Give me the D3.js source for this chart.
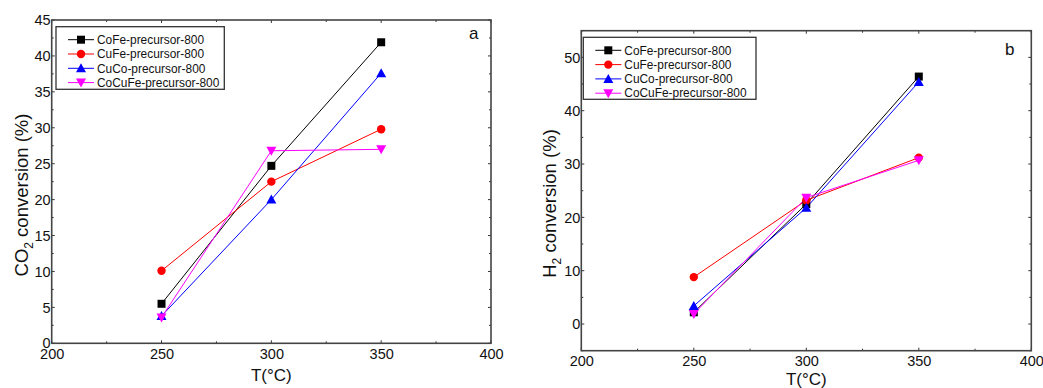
<!DOCTYPE html>
<html><head><meta charset="utf-8">
<script src="https://cdn.jsdelivr.net/npm/d3@7"></script>
<style>body{margin:0;background:#fff}svg{display:block;font-family:"Liberation Sans",Arial,sans-serif}</style>
</head><body><svg id="c" width="1043" height="388"></svg>
<script>
const temps = [250, 300, 350];
const seriesNames = ["CoFe-precursor-800","CuFe-precursor-800","CuCo-precursor-800","CoCuFe-precursor-800"];
const seriesColors = ["#000000","#ff0000","#0000ff","#ff00ff"];
const seriesSymbols = ["square","circle","triUp","triDown"];
// Panel a: CO2 conversion
const co2CoFe = [5.5, 24.7, 41.9];
const co2CuFe = [10.1, 22.5, 29.8];
const co2CuCo = [3.8, 20.0, 37.6];
const co2CoCuFe = [3.6, 26.8, 27.0];
// Panel b: H2 conversion
const h2CoFe = [2.2, 22.5, 46.4];
const h2CuFe = [8.8, 23.2, 31.2];
const h2CuCo = [3.4, 21.8, 45.4];
const h2CoCuFe = [1.9, 23.7, 30.7];
const xTicks = [200, 250, 300, 350, 400];
const yTicksA = [0,5,10,15,20,25,30,35,40,45];
const yTicksB = [0,10,20,30,40,50];

const svg = d3.select("#c");

function symPath(type, cx, cy) {
  if (type === "square") return `M${cx-4},${cy-4}h8v8h-8z`;
  if (type === "triUp") return `M${cx},${cy-5}L${cx+5},${cy+4}L${cx-5},${cy+4}z`;
  if (type === "triDown") return `M${cx},${cy+5}L${cx+5},${cy-4}L${cx-5},${cy-4}z`;
  return null;
}
function drawMarker(g, type, cx, cy, color) {
  if (type === "circle") g.append("circle").attr("cx",cx).attr("cy",cy).attr("r",4.2).attr("fill",color);
  else g.append("path").attr("d", symPath(type,cx,cy)).attr("fill",color);
}

function panel(cfg) {
  const {L,R,T,B,yDom,yTicks,yMinorStep,data,yTitleMain,yTitleSub,letter,letterPos,legend,xTitleY,yTitleX,yTitleY} = cfg;
  const x = d3.scaleLinear().domain([200,400]).range([L,R]);
  const y = d3.scaleLinear().domain(yDom).range([B,T]);
  const g = svg.append("g");
  const xMinor = d3.range(200, 401, 25);
  const yMinor = d3.range(Math.ceil(yDom[0]/yMinorStep)*yMinorStep, yDom[1]+0.001, yMinorStep);
  const tk = g.append("g").attr("stroke","#333").attr("stroke-width",1);
  xMinor.forEach(v => {
    const len = (v % 50 === 0) ? 3 : 2;
    tk.append("line").attr("x1",x(v)).attr("x2",x(v)).attr("y1",B).attr("y2",B-len);
    tk.append("line").attr("x1",x(v)).attr("x2",x(v)).attr("y1",T).attr("y2",T+len);
  });
  yMinor.forEach(v => {
    const major = yTicks.includes(Math.round(v*100)/100);
    const len = major ? 3 : 2;
    tk.append("line").attr("y1",y(v)).attr("y2",y(v)).attr("x1",L).attr("x2",L+len);
    tk.append("line").attr("y1",y(v)).attr("y2",y(v)).attr("x1",R).attr("x2",R-len);
  });
  const xAxis = d3.axisBottom(x).tickValues(xTicks).tickSize(0).tickPadding(5);
  const gx = g.append("g").attr("transform",`translate(0,${B})`).call(xAxis);
  gx.select(".domain").remove();
  gx.selectAll("text").attr("font-size",14.5).attr("fill","#111").attr("font-family","Liberation Sans, Arial, sans-serif");
  const yAxis = d3.axisLeft(y).tickValues(yTicks).tickSize(0).tickPadding(1);
  const gy = g.append("g").attr("transform",`translate(${L},0)`).call(yAxis);
  gy.select(".domain").remove();
  gy.selectAll("text").attr("font-size",14.5).attr("fill","#111").attr("font-family","Liberation Sans, Arial, sans-serif");
  g.append("rect").attr("x",L).attr("y",T).attr("width",R-L).attr("height",B-T)
    .attr("fill","none").attr("stroke","#444").attr("stroke-width",1.6);
  const line = d3.line().x((d,i)=>x(temps[i])).y(d=>y(d));
  data.forEach((vals, si) => {
    g.append("path").attr("d", line(vals)).attr("fill","none").attr("stroke",seriesColors[si]).attr("stroke-width",1);
  });
  data.forEach((vals, si) => {
    vals.forEach((v,i) => drawMarker(g, seriesSymbols[si], x(temps[i]), y(v), seriesColors[si]));
  });
  const lg = g.append("g");
  lg.append("rect").attr("x",legend.x).attr("y",legend.y).attr("width",legend.w).attr("height",legend.h)
    .attr("fill","#fff").attr("stroke","#333").attr("stroke-width",1.3);
  seriesNames.forEach((n,i) => {
    const yy = legend.y + 13 + i*14.3;
    lg.append("line").attr("x1",legend.x+12).attr("x2",legend.x+38).attr("y1",yy).attr("y2",yy)
      .attr("stroke",seriesColors[i]).attr("stroke-width",1);
    drawMarker(lg, seriesSymbols[i], legend.x+25, yy, seriesColors[i]);
    lg.append("text").attr("x",legend.x+41).attr("y",yy+4.2).attr("font-size",11.9).attr("fill","#111").text(n);
  });
  g.append("text").attr("x",letterPos[0]).attr("y",letterPos[1]).attr("font-size",17).attr("fill","#111").text(letter);
  g.append("text").attr("x",(L+R)/2).attr("y",xTitleY).attr("text-anchor","middle").attr("font-size",17).attr("fill","#111").text("T(°C)");
  const yt = g.append("text").attr("transform",`translate(${yTitleX},${yTitleY}) rotate(-90)`)
    .attr("text-anchor","middle").attr("font-size",18.5).attr("fill","#111");
  yt.append("tspan").text(yTitleMain);
  yt.append("tspan").attr("font-size",12).attr("dy",5).text(yTitleSub);
  yt.append("tspan").attr("dy",-5).text(" conversion (%)");
}

panel({L:51.7,R:491,T:20,B:343.3,yDom:[0,45],yTicks:yTicksA,yMinorStep:2.5,
  data:[co2CoFe,co2CuFe,co2CuCo,co2CoCuFe],yTitleMain:"CO",yTitleSub:"2",letter:"a",letterPos:[469,39],
  legend:{x:56,y:26.7,w:168.3,h:62.6},xTitleY:381,yTitleX:28,yTitleY:195});
panel({L:581.3,R:1031.3,T:30.7,B:350.7,yDom:[-5,55],yTicks:yTicksB,yMinorStep:5,
  data:[h2CoFe,h2CuFe,h2CuCo,h2CoCuFe],yTitleMain:"H",yTitleSub:"2",letter:"b",letterPos:[1005,55],
  legend:{x:583.3,y:37.3,w:172.7,h:62},xTitleY:385,yTitleX:556,yTitleY:203.5});
</script></body></html>
